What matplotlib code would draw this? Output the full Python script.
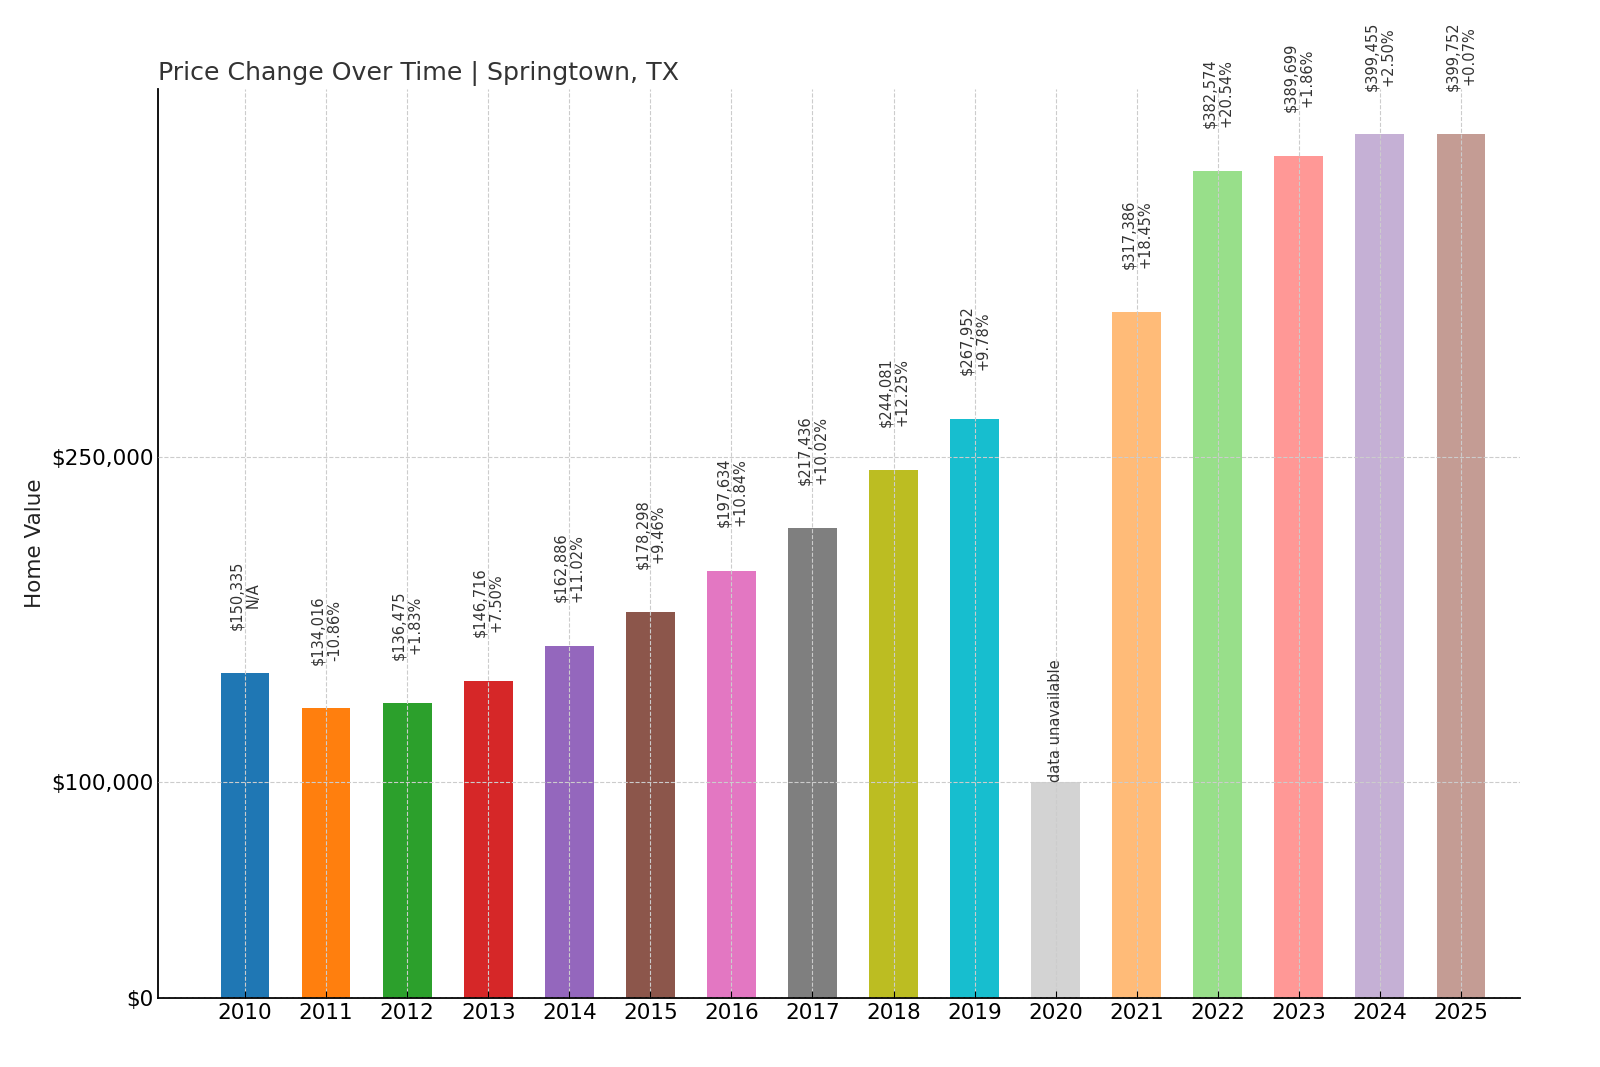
import numpy as np
import matplotlib.pyplot as plt
from matplotlib.ticker import FuncFormatter

years = [str(y) for y in range(2010, 2026)]
values = [150335, 134016, 136475, 146716, 162886, 178298, 197634, 217436,
          244081, 267952, None, 317386, 382574, 389699, 399455, 399752]
changes = ['N/A', '-10.86%', '+1.83%', '+7.50%', '+11.02%', '+9.46%', '+10.84%', '+10.02%',
           '+12.25%', '+9.78%', None, '+18.45%', '+20.54%', '+1.86%', '+2.50%', '+0.07%']
placeholder = 100000

colors = ['#1f77b4', '#ff7f0e', '#2ca02c', '#d62728', '#9467bd', '#8c564b',
          '#e377c2', '#7f7f7f', '#bcbd22', '#17becf', '#d3d3d3', '#ffbb78',
          '#98df8a', '#ff9896', '#c5b0d5', '#c49c94']

fig, ax = plt.subplots(figsize=(16, 10.67), dpi=100)
fig.subplots_adjust(left=0.099, right=0.95, top=0.917, bottom=0.065)

x = np.arange(len(years))
heights = [v if v is not None else placeholder for v in values]
ax.bar(x, heights, width=0.6, color=colors, zorder=1)

for i, v in enumerate(values):
    if v is None:
        ax.text(i, placeholder, 'data unavailable', rotation=90, ha='center', va='bottom',
                fontsize=10.5, color='#333333')
    else:
        ax.text(i, v + 20000, f'${v:,.0f}\n{changes[i]}', rotation=90, ha='center',
                va='bottom', fontsize=10.5, color='#333333', linespacing=1.1)

ax.set_xticks(x)
ax.set_xticklabels(years, fontsize=15.5)
ax.set_yticks([0, 100000, 250000])
ax.yaxis.set_major_formatter(FuncFormatter(lambda v, p: f'${v:,.0f}'))
ax.tick_params(axis='y', labelsize=15.5, length=0)
ax.tick_params(axis='x', direction='in', length=5)
ax.set_xlim(-1.07, 15.73)
ax.set_ylim(0, 420700)
ax.set_ylabel('Home Value', fontsize=15.5, color='#222222')
ax.set_title('Price Change Over Time | Springtown, TX', loc='left', fontsize=18.2,
             color='#333333')
ax.grid(True, linestyle='--', color='#cccccc', linewidth=0.8, zorder=2)
ax.set_axisbelow(False)
for s in ['top', 'right']:
    ax.spines[s].set_visible(False)
ax.spines['left'].set_linewidth(1.3)
ax.spines['bottom'].set_linewidth(1.3)

fig.savefig('out.png')
